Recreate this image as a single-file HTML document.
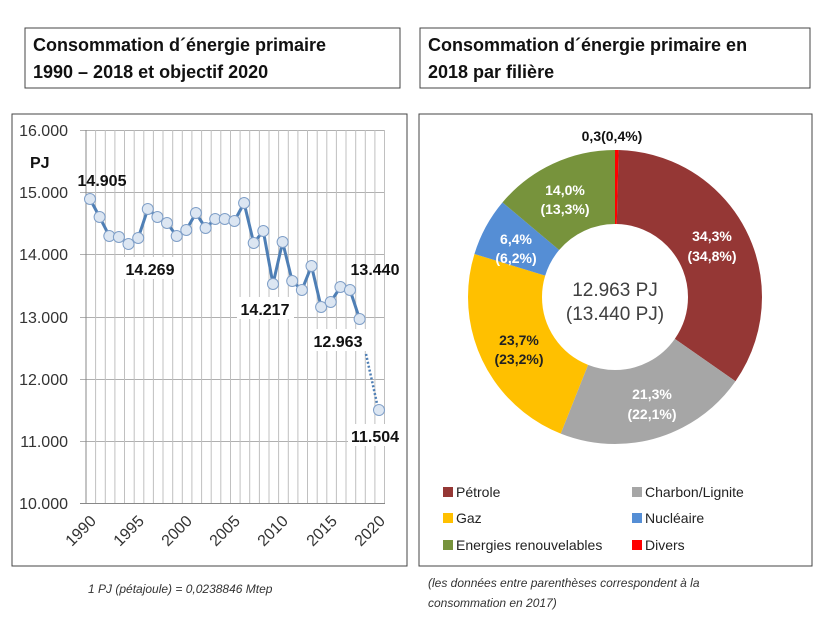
<!DOCTYPE html>
<html><head><meta charset="utf-8"><style>
body{margin:0;background:#fff;width:825px;height:618px;overflow:hidden;font-family:"Liberation Sans",sans-serif}
svg{display:block}
</style></head><body>
<svg width="825" height="618" viewBox="0 0 825 618" font-family="Liberation Sans, sans-serif">
<rect x="25" y="28" width="375" height="60" fill="#fff" stroke="#444" stroke-width="1"/>
<text x="33" y="51" font-size="18" font-weight="bold" fill="#111">Consommation d´énergie primaire</text>
<text x="33" y="78" font-size="18" font-weight="bold" fill="#111">1990 – 2018 et objectif 2020</text>
<rect x="420" y="28" width="390" height="60" fill="#fff" stroke="#444" stroke-width="1"/>
<text x="428" y="51" font-size="18" font-weight="bold" fill="#111">Consommation d´énergie primaire en</text>
<text x="428" y="78" font-size="18" font-weight="bold" fill="#111">2018 par filière</text>

<rect x="12" y="114" width="395" height="452" fill="#fff" stroke="#444"/>
<g stroke="#b0b0b0" stroke-width="1">
<line x1="80" y1="130.5" x2="384" y2="130.5"/><line x1="80" y1="192.5" x2="384" y2="192.5"/><line x1="80" y1="254.5" x2="384" y2="254.5"/><line x1="80" y1="317.5" x2="384" y2="317.5"/><line x1="80" y1="379.5" x2="384" y2="379.5"/><line x1="80" y1="441.5" x2="384" y2="441.5"/>
</g>
<g stroke="#c0c0c0" stroke-width="1">
<line x1="95.6" y1="130" x2="95.6" y2="503"/><line x1="105.3" y1="130" x2="105.3" y2="503"/><line x1="114.9" y1="130" x2="114.9" y2="503"/><line x1="124.5" y1="130" x2="124.5" y2="503"/><line x1="134.2" y1="130" x2="134.2" y2="503"/><line x1="143.8" y1="130" x2="143.8" y2="503"/><line x1="153.4" y1="130" x2="153.4" y2="503"/><line x1="163" y1="130" x2="163" y2="503"/><line x1="172.7" y1="130" x2="172.7" y2="503"/><line x1="182.3" y1="130" x2="182.3" y2="503"/><line x1="191.9" y1="130" x2="191.9" y2="503"/><line x1="201.6" y1="130" x2="201.6" y2="503"/><line x1="211.2" y1="130" x2="211.2" y2="503"/><line x1="220.8" y1="130" x2="220.8" y2="503"/><line x1="230.5" y1="130" x2="230.5" y2="503"/><line x1="240.1" y1="130" x2="240.1" y2="503"/><line x1="249.7" y1="130" x2="249.7" y2="503"/><line x1="259.4" y1="130" x2="259.4" y2="503"/><line x1="269" y1="130" x2="269" y2="503"/><line x1="278.6" y1="130" x2="278.6" y2="503"/><line x1="288.3" y1="130" x2="288.3" y2="503"/><line x1="297.9" y1="130" x2="297.9" y2="503"/><line x1="307.5" y1="130" x2="307.5" y2="503"/><line x1="317.2" y1="130" x2="317.2" y2="503"/><line x1="326.8" y1="130" x2="326.8" y2="503"/><line x1="336.4" y1="130" x2="336.4" y2="503"/><line x1="346" y1="130" x2="346" y2="503"/><line x1="355.7" y1="130" x2="355.7" y2="503"/><line x1="365.3" y1="130" x2="365.3" y2="503"/><line x1="374.9" y1="130" x2="374.9" y2="503"/><line x1="384.5" y1="130" x2="384.5" y2="503"/>
</g>
<line x1="86" y1="130" x2="86" y2="503" stroke="#888"/>
<line x1="80" y1="503.5" x2="385" y2="503.5" stroke="#888"/>
<g font-size="16" fill="#333" text-anchor="end">
<text x="68" y="136">16.000</text><text x="68" y="198">15.000</text><text x="68" y="260">14.000</text><text x="68" y="323">13.000</text><text x="68" y="385">12.000</text><text x="68" y="447">11.000</text><text x="68" y="509">10.000</text>
</g>
<text x="30" y="168" font-size="16" font-weight="bold" fill="#111">PJ</text>
<g font-size="16" fill="#333" text-anchor="end">
<text transform="translate(97,522) rotate(-45)">1990</text>
<text transform="translate(145,522) rotate(-45)">1995</text>
<text transform="translate(193,522) rotate(-45)">2000</text>
<text transform="translate(241,522) rotate(-45)">2005</text>
<text transform="translate(289,522) rotate(-45)">2010</text>
<text transform="translate(338,522) rotate(-45)">2015</text>
<text transform="translate(386,522) rotate(-45)">2020</text>
</g>
<polyline fill="none" stroke="#4f7fb5" stroke-width="3" points="90,199 99.6,217 109.3,236 118.9,237 128.5,244 138.2,238 147.8,209 157.4,217 167,223 176.7,236 186.3,230 195.9,213 205.6,228 215.2,219 224.8,219 234.4,221 244.1,203 253.7,243 263.3,231 273,284 282.6,242 292.2,281 301.9,290 311.5,266 321.1,307 330.7,302 340.4,287 350,290 359.6,319"/>
<line x1="366" y1="354" x2="378" y2="408" stroke="#4f7fb5" stroke-width="2.5" stroke-dasharray="2,2"/>
<g fill="#dce6f2" stroke="#7f9fc8" stroke-width="1">
<circle cx="90" cy="199" r="5.5"/><circle cx="99.6" cy="217" r="5.5"/><circle cx="109.3" cy="236" r="5.5"/><circle cx="118.9" cy="237" r="5.5"/><circle cx="128.5" cy="244" r="5.5"/><circle cx="138.2" cy="238" r="5.5"/><circle cx="147.8" cy="209" r="5.5"/><circle cx="157.4" cy="217" r="5.5"/><circle cx="167" cy="223" r="5.5"/><circle cx="176.7" cy="236" r="5.5"/><circle cx="186.3" cy="230" r="5.5"/><circle cx="195.9" cy="213" r="5.5"/><circle cx="205.6" cy="228" r="5.5"/><circle cx="215.2" cy="219" r="5.5"/><circle cx="224.8" cy="219" r="5.5"/><circle cx="234.4" cy="221" r="5.5"/><circle cx="244.1" cy="203" r="5.5"/><circle cx="253.7" cy="243" r="5.5"/><circle cx="263.3" cy="231" r="5.5"/><circle cx="273" cy="284" r="5.5"/><circle cx="282.6" cy="242" r="5.5"/><circle cx="292.2" cy="281" r="5.5"/><circle cx="301.9" cy="290" r="5.5"/><circle cx="311.5" cy="266" r="5.5"/><circle cx="321.1" cy="307" r="5.5"/><circle cx="330.7" cy="302" r="5.5"/><circle cx="340.4" cy="287" r="5.5"/><circle cx="350" cy="290" r="5.5"/><circle cx="359.6" cy="319" r="5.5"/><circle cx="379" cy="410" r="5.5"/>
</g>
<g font-size="16" font-weight="bold" fill="#111" text-anchor="middle">
<rect x="123" y="257" width="55" height="22" fill="#fff"/>
<rect x="237" y="297" width="57" height="22" fill="#fff"/>
<rect x="310" y="329" width="56" height="22" fill="#fff"/>
<rect x="348" y="424" width="54" height="22" fill="#fff"/>
<text x="102" y="186">14.905</text>
<text x="150" y="275">14.269</text>
<text x="265" y="315">14.217</text>
<text x="338" y="347">12.963</text>
<text x="375" y="275">13.440</text>
<text x="375" y="442">11.504</text>
</g>
<text x="88" y="593" font-size="12" font-style="italic" fill="#333">1 PJ (pétajoule) = 0,0238846 Mtep</text>

<rect x="419" y="114" width="393" height="452" fill="#fff" stroke="#444"/>
<g transform="translate(615,297) rotate(-90)" fill="none" stroke-width="74">
<circle r="110" stroke="#ff0000" stroke-dasharray="2.76 700" stroke-dashoffset="0"/>
<circle r="110" stroke="#953735" stroke-dasharray="237.06 700" stroke-dashoffset="-2.76"/>
<circle r="110" stroke="#a6a6a6" stroke-dasharray="147.21 700" stroke-dashoffset="-239.82"/>
<circle r="110" stroke="#ffc000" stroke-dasharray="163.8 700" stroke-dashoffset="-387.03"/>
<circle r="110" stroke="#558ed5" stroke-dasharray="44.23 700" stroke-dashoffset="-550.83"/>
<circle r="110" stroke="#77933c" stroke-dasharray="96.2 700" stroke-dashoffset="-595.06"/>
</g>
<g font-size="14" font-weight="bold" text-anchor="middle" fill="#fff">
<text x="712" y="241">34,3%</text><text x="712" y="261">(34,8%)</text>
<text x="652" y="399">21,3%</text><text x="652" y="419">(22,1%)</text>
<text x="519" y="345" fill="#222">23,7%</text><text x="519" y="364" fill="#222">(23,2%)</text>
<text x="516" y="244">6,4%</text><text x="516" y="263">(6,2%)</text>
<text x="565" y="195">14,0%</text><text x="565" y="214">(13,3%)</text>
<text x="612" y="141" fill="#111">0,3(0,4%)</text>
</g>
<g font-size="19" text-anchor="middle" fill="#404040">
<text x="615" y="296">12.963 PJ</text><text x="615" y="320">(13.440 PJ)</text>
</g>
<g font-size="14" fill="#222">
<rect x="443" y="487" width="10" height="10" fill="#953735"/><text x="456" y="497">Pétrole</text>
<rect x="632" y="487" width="10" height="10" fill="#a6a6a6"/><text x="645" y="497">Charbon/Lignite</text>
<rect x="443" y="513" width="10" height="10" fill="#ffc000"/><text x="456" y="523">Gaz</text>
<rect x="632" y="513" width="10" height="10" fill="#558ed5"/><text x="645" y="523">Nucléaire</text>
<rect x="443" y="540" width="10" height="10" fill="#77933c"/><text x="456" y="550">Energies renouvelables</text>
<rect x="632" y="540" width="10" height="10" fill="#ff0000"/><text x="645" y="550">Divers</text>
</g>
<text x="428" y="587" font-size="12" font-style="italic" fill="#333">(les données entre parenthèses correspondent à la</text>
<text x="428" y="607" font-size="12" font-style="italic" fill="#333">consommation en 2017)</text>
</svg>
</body></html>
